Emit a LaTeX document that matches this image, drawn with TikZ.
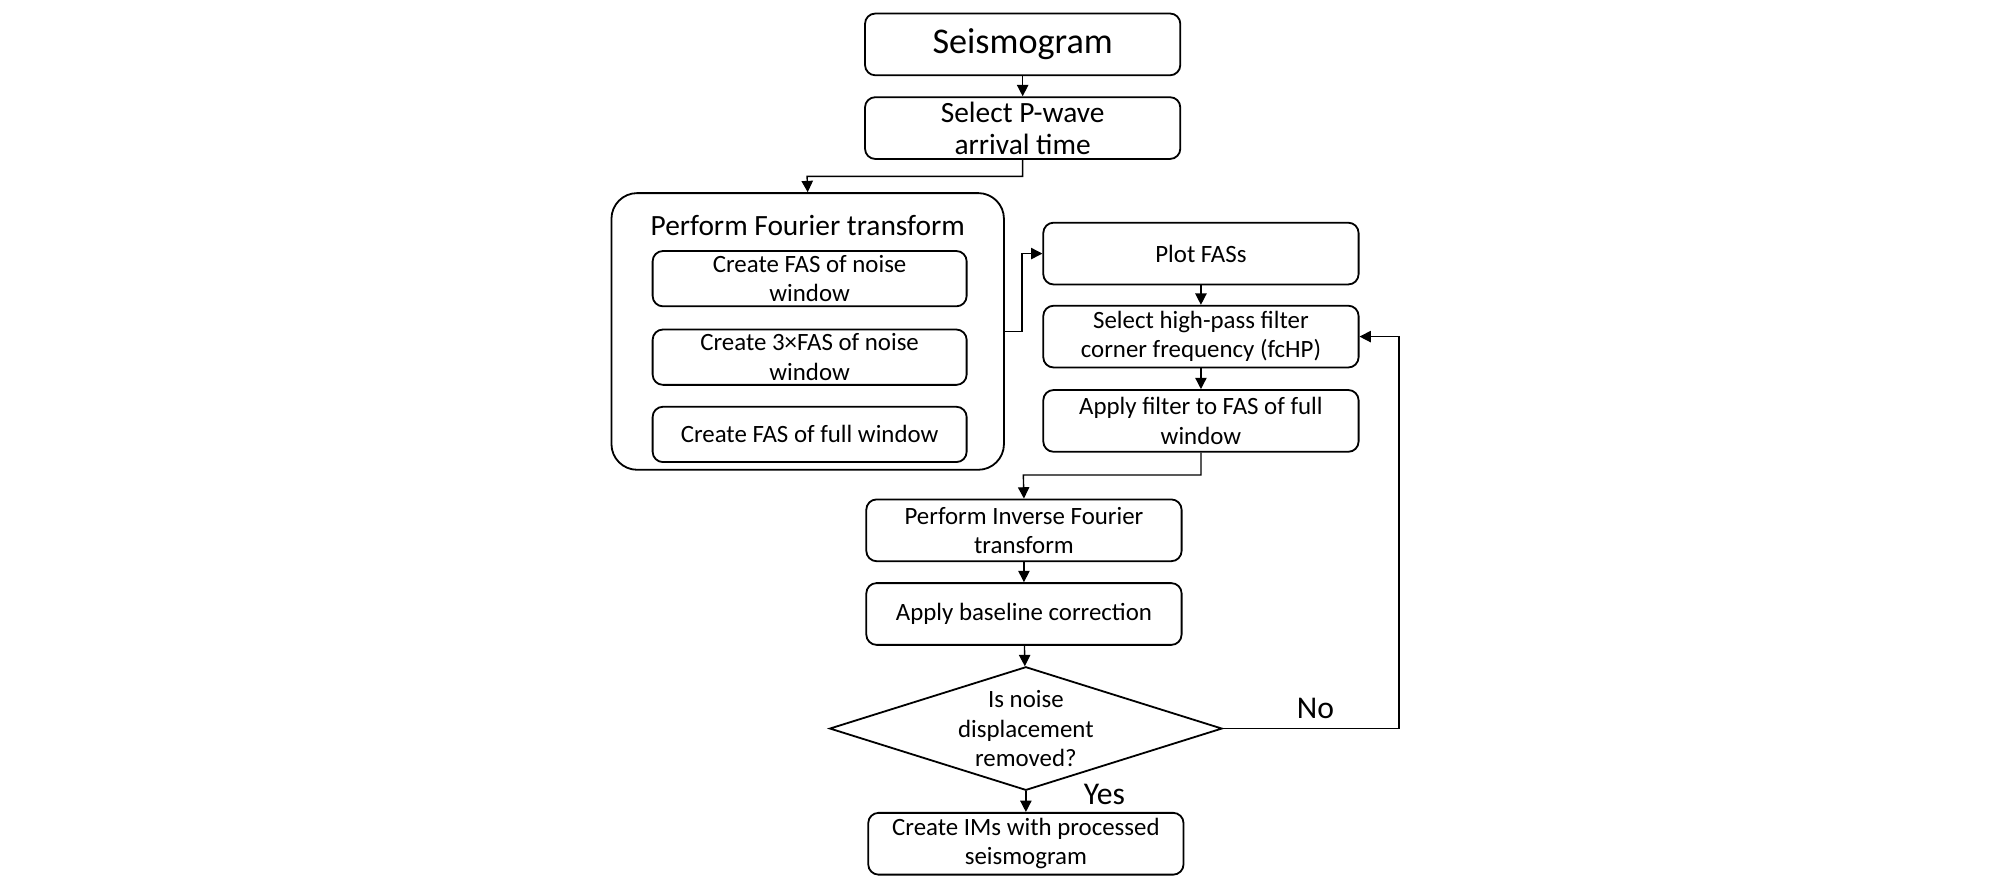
\documentclass[tikz,border=0pt]{standalone}
\usepackage{fontspec}
\setmainfont{Carlito}
\usetikzlibrary{arrows.meta, shapes.geometric}

\tikzset{
	stage/.style={draw, thick, rounded corners=0.16cm, align=center, font=\fontsize{11}{13}\selectfont,
		minimum width=4.9cm, minimum height=0.96cm, inner sep=1pt},
	sub/.style={stage, minimum width=4.88cm, minimum height=0.86cm},
	line/.style={-{Triangle[length=5pt, width=5pt]}, semithick}
}

\begin{document}
\begin{tikzpicture}[x=0.02cm, y=-0.02cm]
	\useasboundingbox (0,0) rectangle (1560,686);
	\node [stage, font=\fontsize{16}{18}\selectfont] (seis) at (794.5,34.5) {Seismogram};
	\node [stage, font=\fontsize{13}{15}\selectfont] (pick) at (794.5,99.5) {Select P-wave\\[-1pt]arrival time};
	\node [draw, thick, rounded corners=0.4cm, minimum width=6.1cm, minimum height=4.3cm]%
				(ft) at (627.5,257.5) {};
	\node [font=\fontsize{13}{15}\selectfont] (fttitle) at (627.5,175) {Perform Fourier transform};
	\node [sub] (noise) at (629,216.5) {Create FAS of noise\\window};
	\node [sub] (noise3) at (629,277.5) {Create 3×FAS of noise\\window};
	\node [sub] (full) at (629,337.5) {Create FAS of full window};
	\node [stage] (plot) at (933,197) {Plot FASs};
	\node [stage] (hp) at (933,261.5) {Select high-pass filter\\corner frequency (fcHP)};
	\node [stage] (filt) at (933,327) {Apply filter to FAS of full\\window};
	\node [stage] (ifft) at (795.5,412) {Perform Inverse Fourier\\transform};
	\node [stage] (base) at (795.5,477) {Apply baseline correction};
	\node [diamond, draw, thick, aspect=3.2, minimum width=6.1cm, minimum height=1.92cm, inner sep=0pt,
		align=center, font=\fontsize{11}{13}\selectfont] (test) at (797,566) {Is noise\\displacement\\removed?};
	\node [stage] (ims) at (797,655.5) {Create IMs with processed\\seismogram};
	\coordinate (loop) at (1087,566);
	\coordinate (split) at (627,137);
	\coordinate (join) at (795,369);
	\coordinate (bend) at (794,197);
	\draw [line] (seis) -- (pick);
	\draw [line] (pick.south) |- (split) -- (ft.north);
	\draw [line] (ft.east) -| (bend) -- (plot.west);
	\draw [line] (plot) -- (hp);
	\draw [line] (hp) -- (filt);
	\draw [line] (filt.south) |- (join) -- (ifft.north);
	\draw [line] (ifft) -- (base);
	\draw [line] (base) -- (test);
	\draw [line] (test) -- (ims);
	\draw [line] (test.east) -- (loop) |- (hp.east);
	\node [font=\fontsize{14}{16}\selectfont] (no) at (1022,550) {No};
	\node [font=\fontsize{14}{16}\selectfont] (yes) at (858,617) {Yes};
\end{tikzpicture}
\end{document}
